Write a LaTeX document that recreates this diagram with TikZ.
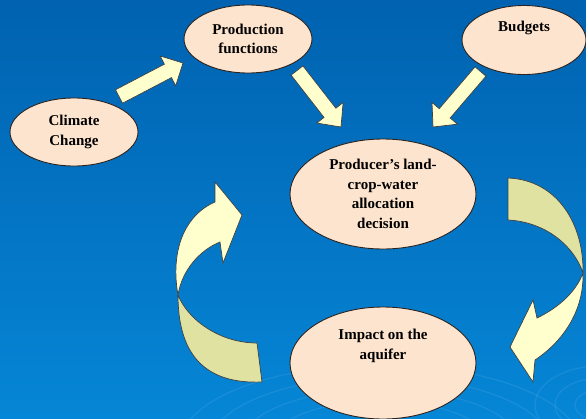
\documentclass[tikz,border=0pt]{standalone}
\usepackage{fontspec}
\setmainfont{Liberation Serif}
\usetikzlibrary{shapes.geometric,calc}
\definecolor{seatop}{RGB}{0,98,176}
\definecolor{seabot}{RGB}{6,134,214}
\definecolor{peach}{RGB}{253,228,206}
\definecolor{cream}{RGB}{255,255,206}
\definecolor{olive}{RGB}{224,226,162}
\definecolor{rim}{RGB}{45,35,30}
\tikzset{tag/.style={font=\fontsize{15}{19.5}\selectfont\bfseries, align=center},
         bubble/.style={ellipse, draw=rim, line width=0.9pt, fill=peach, inner sep=0pt, tag},
         fatarrow/.style={fill=cream, draw=black!75, line width=0.7pt, line join=miter},
         backside/.style={fill=olive, draw=black!75, line width=0.7pt},
         ripple/.style={draw=white, opacity=0.08, line width=1.2pt}
}
% straight block arrow: tail, tip, half shaft, half head, head length
\newcommand\blockarrow[5]{%
  \coordinate (neck) at ($(#2)!#5!(#1)$);
  \filldraw[fatarrow] ($(#1)!#3!90:(#2)$) -- ($(neck)!#3!90:(#2)$) -- ($(neck)!#4!90:(#2)$) -- (#2)
     -- ($(neck)!#4!-90:(#2)$) -- ($(neck)!#3!-90:(#2)$) -- ($(#1)!#3!-90:(#2)$) -- cycle;
}

\begin{document}
\begin{tikzpicture}[x=1pt,y=-1pt]
\useasboundingbox (0,0) rectangle (586,418);
\shade[top color=seatop, bottom color=seabot] (0,0) rectangle (586,418);

% faint rings at the bottom
\foreach \r in {110,140,170,200}
  \draw[ripple] (380,445) ellipse ({\r pt} and {0.4*\r pt});
\foreach \r in {25,45,65}
  \draw[ripple] (600,405) ellipse ({\r pt} and {0.6*\r pt});

\node[bubble, minimum width=128pt, minimum height=68pt] (climate) at (74,132) {Climate\\Change};
\node[bubble, minimum width=128pt, minimum height=68pt] (prodfn) at (248,39) {Production\\functions};
\node[bubble, minimum width=124pt, minimum height=69pt,
      label={[tag,yshift=12pt]center:Budgets}] (budgets) at (524,40) {};
\node[bubble, minimum width=186pt, minimum height=110pt] (decision) at (383,194)
      {Producer's land-\\crop-water\\allocation\\decision};
\node[bubble, minimum width=186pt, minimum height=112pt,
      label={[tag,yshift=17pt]center:Impact on the\\aquifer}] (aquifer) at (383,363) {};

% straight arrows
\coordinate (climate-out) at (119,96.5);
\coordinate (prodfn-in) at (183,63);
\coordinate (prodfn-out) at (297,70.5);
\coordinate (budgets-out) at (480.5,71.5);
\coordinate (decision-inl) at (341,127);
\coordinate (decision-inr) at (433,127);
\blockarrow{climate-out}{prodfn-in}{7.6pt}{16.8pt}{17pt}
\blockarrow{prodfn-out}{decision-inl}{7.5pt}{16.7pt}{18pt}
\blockarrow{budgets-out}{decision-inr}{7.2pt}{16.7pt}{18pt}

% decision -> aquifer
\filldraw[backside] (508,178) .. controls (558,180) and (584,225) .. (583,273)
   .. controls (574,246) and (546,222) .. (508,220) -- cycle;
\filldraw[fatarrow] (583,273) .. controls (584,312) and (562,342) .. (535,360) -- (533,382)
   -- (510,347) -- (533,300) -- (537,318) .. controls (558,308) and (576,292) .. (583,273) -- cycle;

% aquifer -> decision
\filldraw[backside] (262,382) .. controls (210,384) and (178,360) .. (178,295)
   .. controls (188,320) and (220,343) .. (257,343) -- cycle;
\filldraw[fatarrow] (178,295) .. controls (170,250) and (185,215) .. (215,202) -- (215,182)
   -- (242,215) -- (223,263) -- (220,242) .. controls (200,250) and (182,270) .. (178,295) -- cycle;

\end{tikzpicture}
\end{document}
